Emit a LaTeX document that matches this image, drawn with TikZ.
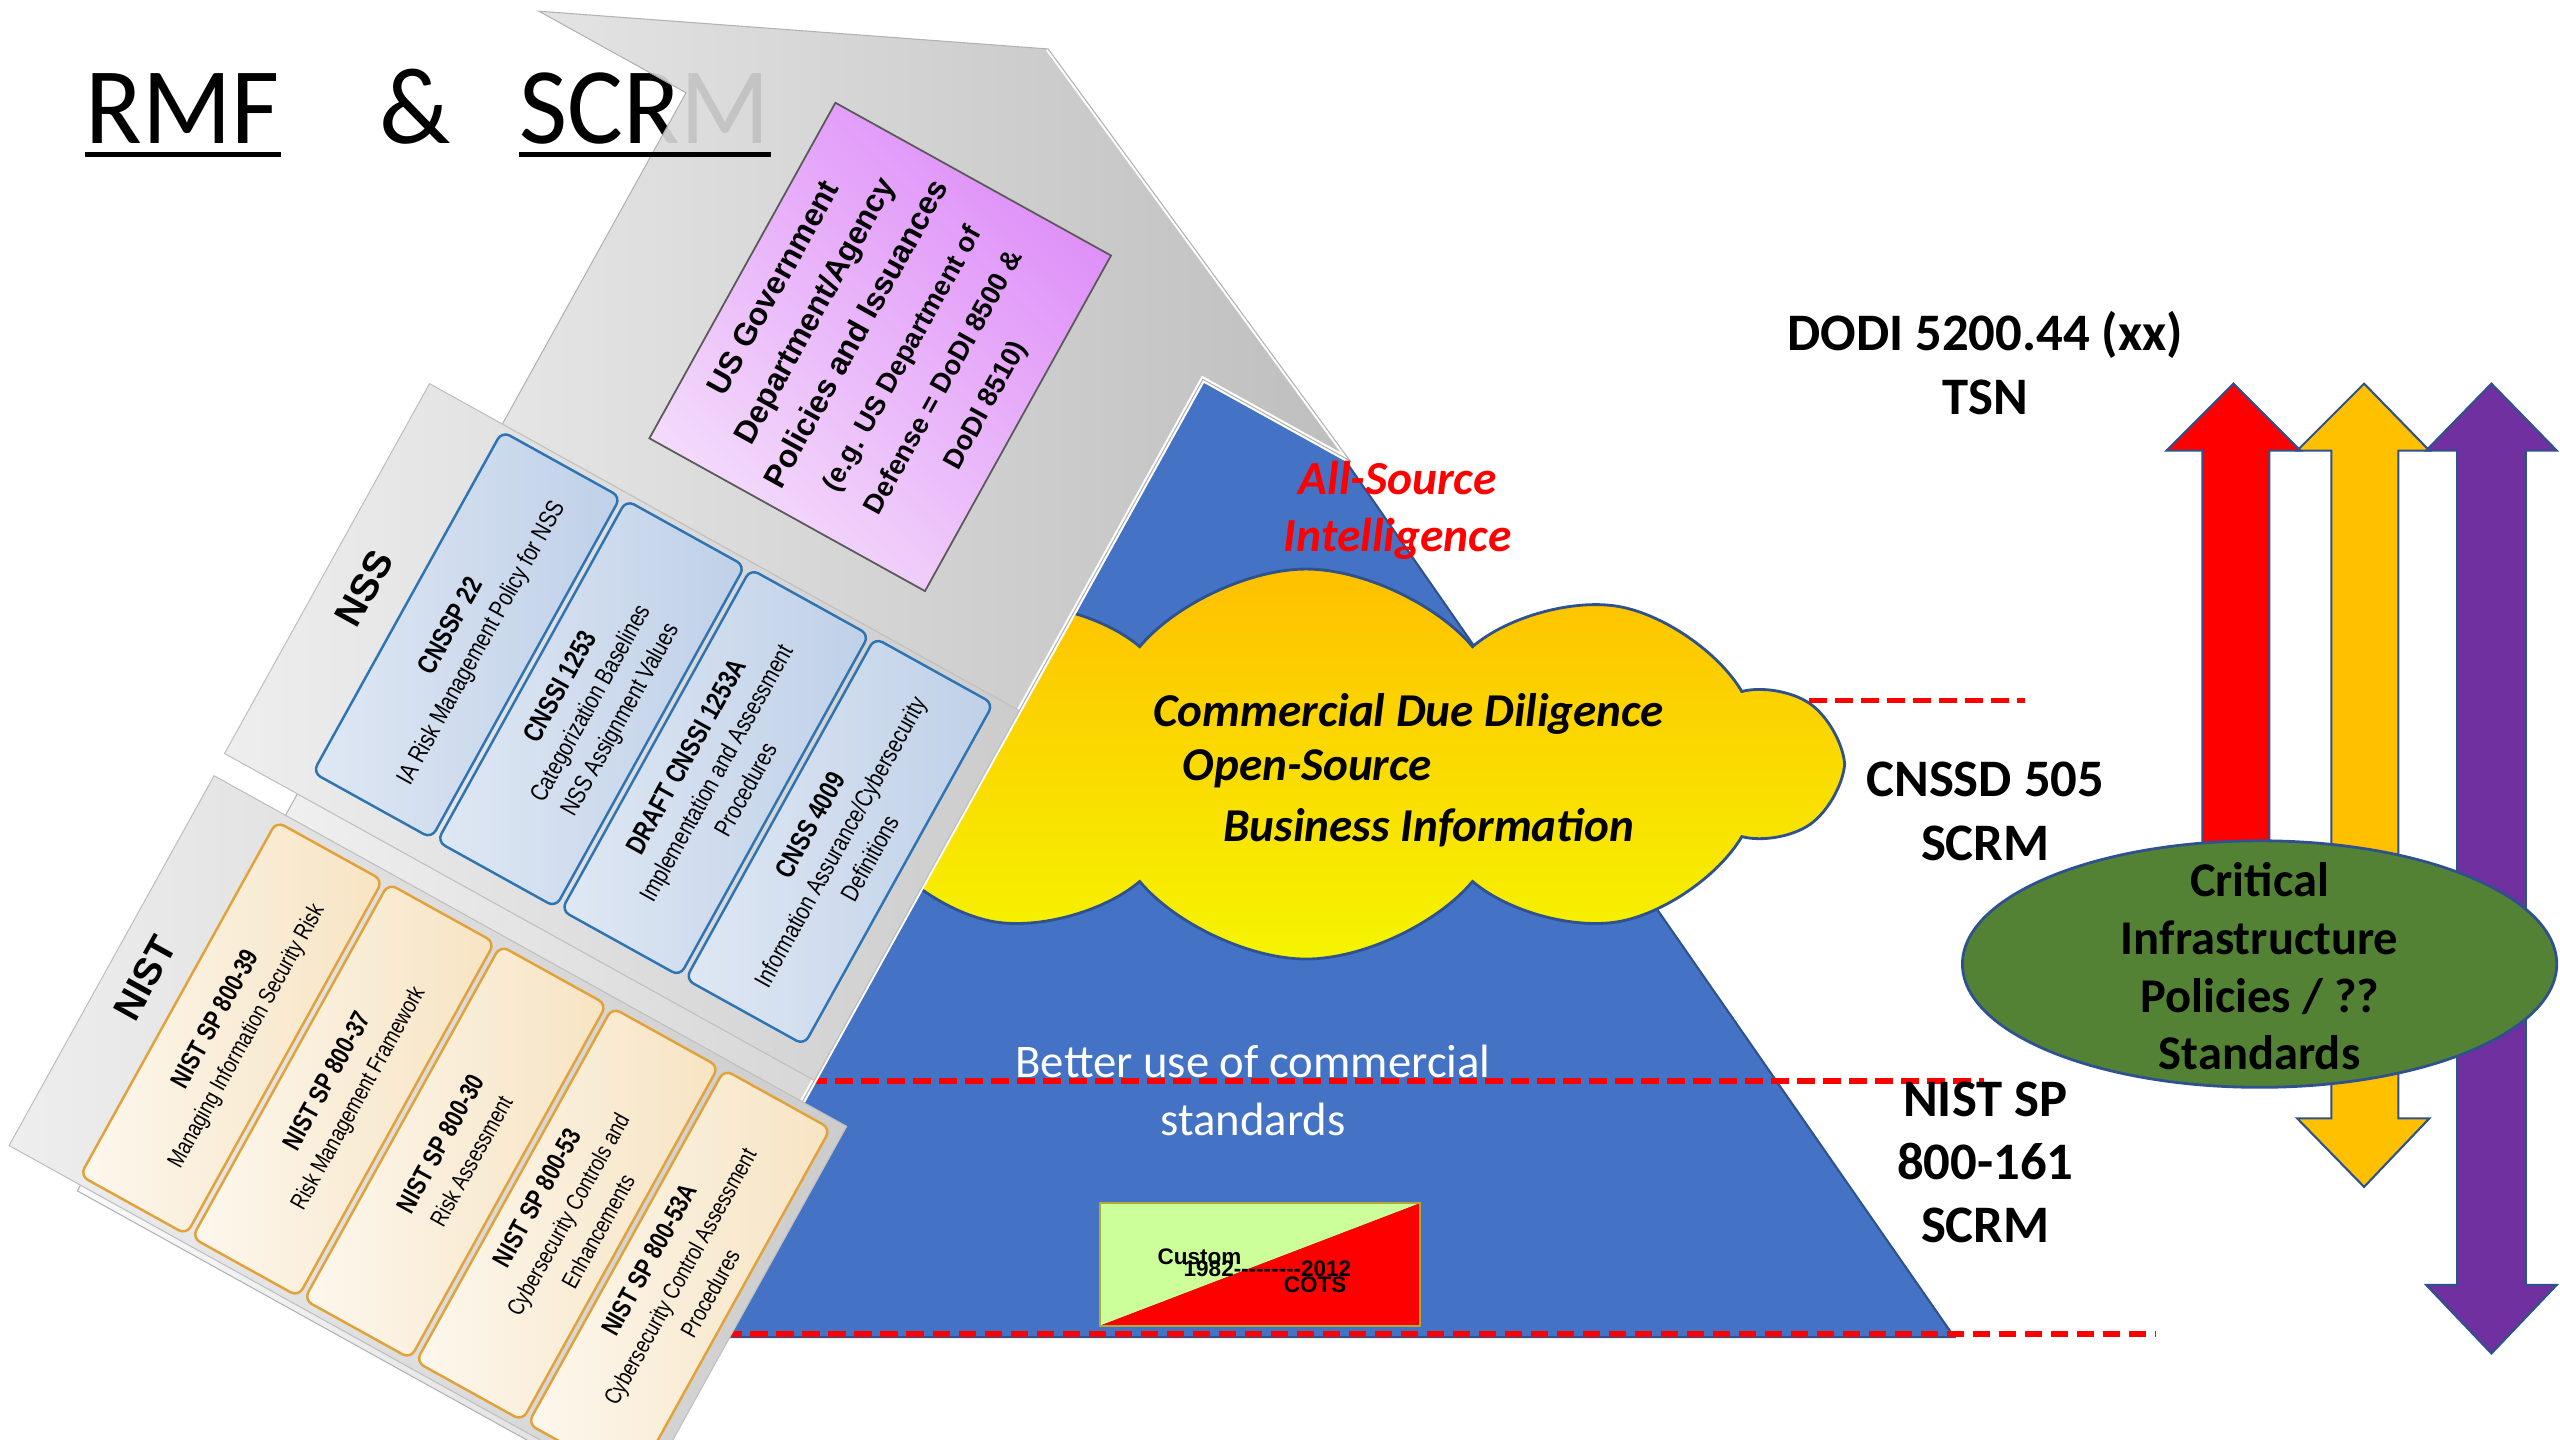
\documentclass[tikz,border=0pt]{standalone}
\usepackage{fontspec}
\setmainfont{Carlito}
\newfontfamily\titlefont[FakeStretch=0.96]{Carlito}
\newfontfamily\arialfont{Liberation Sans}
\newfontfamily\narrowfont[FakeStretch=0.8]{Liberation Sans}
\usetikzlibrary{shapes.symbols}
\definecolor{pyrblue}{HTML}{4472C4}
\definecolor{pyredge}{HTML}{2F528F}
\definecolor{cloudtop}{HTML}{FFC000}
\definecolor{cloudbot}{HTML}{F5F500}
\definecolor{panellight}{HTML}{F9F9F9}
\definecolor{paneldark}{HTML}{BEBEBE}
\definecolor{backlight}{HTML}{EEEEEE}
\definecolor{backdark}{HTML}{CCCCCC}
\definecolor{nssfill}{HTML}{BFD0E8}
\definecolor{nssedge}{HTML}{2E74B5}
\definecolor{nistfill}{HTML}{F7E4C3}
\definecolor{nistedge}{HTML}{E2A23A}
\definecolor{usglight}{HTML}{F4DDFB}
\definecolor{usgdark}{HTML}{DE8EF8}
\definecolor{dashred}{HTML}{FF0000}
\definecolor{cigreen}{HTML}{548235}
\definecolor{arryellow}{HTML}{FFC000}
\definecolor{arrpurple}{HTML}{7030A0}
\definecolor{custgreen}{HTML}{CCFF99}
\begin{document}
\begin{tikzpicture}[x=0.16327mm, y=0.16327mm,
  title/.style={font=\titlefont\fontsize{31}{36}\selectfont, anchor=base west, inner sep=0pt},
  underline/.style={line width=1.4pt},
  pyramid/.style={fill=pyrblue, draw=pyredge, line width=0.6pt},
  riskline/.style={dashred, line width=1.6pt, dash pattern=on 5pt off 2.4pt},
  panel/.style={left color=panellight, right color=paneldark, draw=gray!60, line width=0.3pt},
  backing/.style={left color=backlight, right color=backdark, draw=gray!50, line width=0.3pt},
  nssbox/.style={left color=white!50!nssfill, middle color=nssfill, right color=nssfill, draw=nssedge, line width=0.7pt, rounded corners=2.5pt},
  nistbox/.style={left color=white!70!nistfill, middle color=nistfill, right color=nistfill, draw=nistedge, line width=0.7pt, rounded corners=2.5pt},
  usgbox/.style={bottom color=usglight, top color=usgdark, shading angle=-45, draw=gray!70!black, line width=0.5pt},
  doctext/.style={font=\narrowfont\fontsize{7.1}{9.6}\selectfont, align=center, rotate=90, inner sep=0pt},
  nisttext/.style={doctext, font=\narrowfont\fontsize{6.7}{9.8}\selectfont},
  grouplabel/.style={font=\arialfont\bfseries\fontsize{11}{13}\selectfont, rotate=90},
  bigarrow/.style={draw=pyredge, line width=0.6pt},
  stdtext/.style={font=\bfseries\fontsize{15}{18}\selectfont, align=center},
  cloudtext/.style={font=\bfseries\itshape\fontsize{13.4}{16}\selectfont, anchor=west, inner sep=0pt},
  custtext/.style={font=\arialfont\bfseries\fontsize{6.4}{7}\selectfont, anchor=west, inner sep=0pt}]
\useasboundingbox (0,0) rectangle (1568,882);
\clip (0,0) rectangle (1568,882);

\node[title] (rmf) at (52,794) {RMF};
\node[title] (amp) at (232,794) {\&};
\node[title] (scrm) at (318,794) {SCRM};

\draw[pyramid] (810,620) -- (718,667) -- (300,63) -- (1197,63) -- cycle;
\node[cloud, cloud puffs=10, cloud puff arc=100, aspect=2.7, minimum width=106mm, minimum height=39mm,
  top color=cloudtop, bottom color=cloudbot, draw=pyredge, line width=0.8pt] (osint) at (800,414) {};

\coordinate (d1a) at (1108,453);
\coordinate (d1b) at (1240,453);
\coordinate (d2a) at (400,220);
\coordinate (d2b) at (1215,220);
\coordinate (d3a) at (380,65);
\coordinate (d3b) at (1320,65);
\draw[riskline] (d1a) -- (d1b);
\draw[riskline] (d2a) -- (d2b);
\draw[riskline] (d3a) -- (d3b);

\begin{scope}[shift={(642,852)}, rotate=-29, transform shape]
\draw[panel] (0,0) -- (284,-131) -- (181,-131) -- (181,-900) -- (-181,-900) -- (-181,-131) -- (-284,-131) -- cycle;
\draw[white, line width=1.5pt] (181,-900) -- (181,-131) -- (284,-131) -- (0,0);
\draw[gray!60, line width=0.3pt] (181,-900) -- (181,-131) -- (284,-131) -- (0,0);
\draw[usgbox] (-98,-327) rectangle (95,-92);
\node[align=center, rotate=90, font=\arialfont\bfseries\fontsize{9}{13.5}\selectfont] (usgov) at (-1.5,-209.5)
  {US Government\\ Department/Agency\\ Policies and Issuances\\[1pt]
   \fontsize{7.8}{10.6}\selectfont (e.g. US Department of\\
   \fontsize{7.8}{10.6}\selectfont Defense = DoDI 8500 \&\\
   \fontsize{7.8}{10.6}\selectfont DoDI 8510)};

\draw[backing] (-232,-622) rectangle (181,-363);
\node[grouplabel] (nss) at (-206,-492) {NSS};
\draw[nssbox] (-179,-606) rectangle (-96,-367);
\draw[nssbox] (-92,-606) rectangle (-9,-367);
\draw[nssbox] (-5,-606) rectangle (78,-367);
\draw[nssbox] (82,-606) rectangle (165,-367);
\node[doctext] (cnssp) at (-137.5,-486.5) {\bfseries\fontsize{7.8}{9.6}\selectfont CNSSP 22\\ IA Risk Management Policy for NSS};
\node[doctext] (cnssi) at (-50.5,-486.5) {\bfseries\fontsize{7.8}{9.6}\selectfont CNSSI 1253\\ Categorization Baselines\\ NSS Assignment Values};
\node[doctext] (cnssia) at (36.5,-486.5) {\bfseries\fontsize{7.8}{9.6}\selectfont DRAFT CNSSI 1253A\\ Implementation and Assessment\\ Procedures};
\node[doctext] (cnss) at (123.5,-486.5) {\bfseries\fontsize{7.8}{9.6}\selectfont CNSS 4009\\ Information Assurance/Cybersecurity\\ Definitions};

\draw[backing] (-231,-896) rectangle (212,-637);
\node[grouplabel] (nist) at (-208,-766) {NIST};
\draw[nistbox] (-184,-891) rectangle (-109.6,-643);
\draw[nistbox] (-105.6,-891) rectangle (-31.2,-643);
\draw[nistbox] (-27.2,-891) rectangle (47.2,-643);
\draw[nistbox] (51.2,-891) rectangle (125.6,-643);
\draw[nistbox] (129.6,-891) rectangle (204,-643);
\node[nisttext] (sp39) at (-146.8,-767) {\bfseries\fontsize{7.5}{9.8}\selectfont NIST SP 800-39\\ Managing Information Security Risk};
\node[nisttext] (sp37) at (-68.4,-767) {\bfseries\fontsize{7.5}{9.8}\selectfont NIST SP 800-37\\ Risk Management Framework};
\node[nisttext] (sp30) at (10,-767) {\bfseries\fontsize{7.5}{9.8}\selectfont NIST SP 800-30\\ Risk Assessment};
\node[nisttext] (sp53) at (88.4,-767) {\bfseries\fontsize{7.5}{9.8}\selectfont NIST SP 800-53\\ Cybersecurity Controls and\\ Enhancements};
\node[nisttext] (sp53a) at (166.8,-767) {\bfseries\fontsize{7.5}{9.8}\selectfont NIST SP 800-53A\\ Cybersecurity Control Assessment\\ Procedures};
\end{scope}

\node[title, text opacity=0.1] (scrmghost) at (318,794) {SCRM};
\draw[underline] ([yshift=-3.2pt]rmf.base west) -- ([yshift=-3.2pt]rmf.base east);
\draw[underline] ([yshift=-3.2pt]scrm.base west) -- ([yshift=-3.2pt]scrm.base east);

\node[font=\bfseries\itshape\fontsize{13.5}{16.3}\selectfont, text=dashred, align=center] (allsrc) at (856,569.5) {All-Source\\Intelligence};
\node[cloudtext] (cdd) at (706,445) {Commercial Due Diligence};
\node[cloudtext] (opensrc) at (724,411) {Open-Source};
\node[cloudtext] (businfo) at (749,375) {Business Information};
\node[font=\fontsize{13.3}{16.7}\selectfont, text=white, align=center] (better) at (767.5,214) {Better use of commercial\\standards};

\fill[custgreen] (673.7,70) -- (673.7,145) -- (869.7,145) -- cycle;
\fill[red] (673.7,70) -- (869.7,145) -- (869.7,70) -- cycle;
\draw[olive!70, line width=0.5pt] (673.7,70) rectangle (869.7,145);
\node[custtext] (custom) at (708.6,112) {Custom};
\node[custtext] (years) at (724.6,105) {1982-{}-{}-{}-{}-{}-{}-{}-{}-2012};
\node[custtext] (cots) at (786,95) {COTS};

\draw[bigarrow, fill=arryellow] (1428,197) -- (1428,606) -- (1407,606) -- (1448,647) -- (1488,606) -- (1469,606) -- (1469,197) -- (1488,197) -- (1448,155) -- (1407,197) -- cycle;
\draw[bigarrow, fill=arrpurple] (1505,95) -- (1505,606) -- (1486,606) -- (1526,647) -- (1566,606) -- (1547,606) -- (1547,95) -- (1566,95) -- (1526,53) -- (1486,95) -- cycle;
\draw[bigarrow, fill=red] (1349,322) -- (1349,606) -- (1327,606) -- (1368,647) -- (1409,606) -- (1390,606) -- (1390,322) -- cycle;
\draw[fill=cigreen, draw=pyredge, line width=0.8pt] (1384,291.5) ellipse [x radius=182, y radius=75.5];
\node[font=\bfseries\fontsize{13.8}{16.4}\selectfont, align=center] (cip) at (1384,290) {Critical\\Infrastructure\\Policies / ??\\Standards};

\node[stdtext] (dodi) at (1216,659.5) {DODI 5200.44 (xx)\\TSN};
\node[stdtext] (cnssd) at (1216,385) {CNSSD 505\\SCRM};
\node[stdtext] (sp161) at (1216,170) {NIST SP\\800-161\\SCRM};
\end{tikzpicture}
\end{document}
